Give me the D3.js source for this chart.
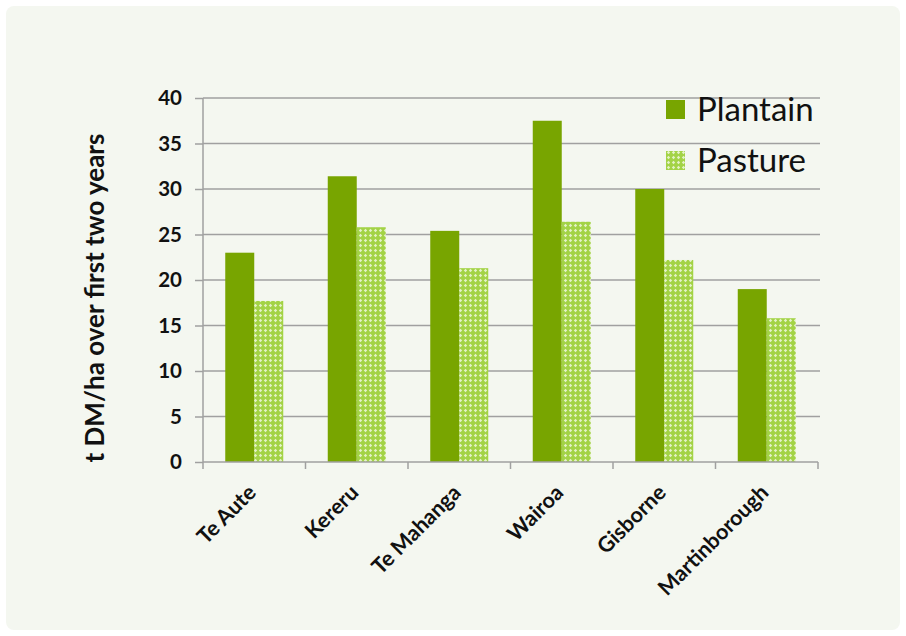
<!DOCTYPE html>
<html>
<head>
<meta charset="utf-8">
<script src="https://cdn.jsdelivr.net/npm/d3@7"></script>
<style>
  body { margin: 0; background: #ffffff; }
  svg text { font-family: Lato, "Open Sans", sans-serif; }
</style>
</head>
<body>
<div id="chart"></div>
<script>
// data
const sites = ["Te Aute", "Kereru", "Te Mahanga", "Wairoa", "Gisborne", "Martinborough"];
const plantain = [23.0, 31.4, 25.4, 37.5, 30.0, 19.0];
const pasture = [17.7, 25.8, 21.3, 26.4, 22.2, 15.8];
const yTicks = [0, 5, 10, 15, 20, 25, 30, 35, 40];
const seriesNames = ["Plantain", "Pasture"];

const W = 906, H = 636;
const margin = {top: 98, right: 88, bottom: 174, left: 203};
const width = W - margin.left - margin.right,
    height = H - margin.top - margin.bottom;

let svg = d3.select("#chart").append("svg")
    .attr("width", W)
    .attr("height", H);

// hatch pattern for pasture
let defs = svg.append("defs");
let pat = defs.append("pattern")
    .attr("id", "hatch")
    .attr("width", 5).attr("height", 5)
    .attr("patternUnits", "userSpaceOnUse");
pat.append("rect").attr("width", 5).attr("height", 5).attr("fill", "#a3d346");
pat.append("path")
    .attr("d", "M2.5,0.8 L4.2,2.5 L2.5,4.2 L0.8,2.5 Z")
    .attr("fill", "#e4f2c8");

// panel background
svg.append("rect")
    .attr("x", 6).attr("y", 6)
    .attr("width", 894).attr("height", 624)
    .attr("rx", 8)
    .attr("fill", "#f4f7f0");

let g = svg.append("g")
    .attr("transform", "translate(" + margin.left + "," + margin.top + ")");

let x = d3.scaleBand()
    .domain(sites)
    .range([0, width]);

let y = d3.scaleLinear()
    .domain([0, 40])
    .range([height, 0]);

// gridlines
g.selectAll(".grid")
    .data(yTicks.filter(d => d > 0))
    .enter().append("line")
    .attr("x1", 0).attr("x2", width + 2)
    .attr("y1", d => y(d)).attr("y2", d => y(d))
    .attr("stroke", "#a0a0a0")
    .attr("stroke-width", 1.5);

// bars
const barW = 29;
const off = (x.bandwidth() - 2 * barW) / 2;

g.selectAll(".plantain")
    .data(plantain)
    .enter().append("rect")
    .attr("x", (d, i) => x(sites[i]) + off)
    .attr("y", d => y(d))
    .attr("width", barW)
    .attr("height", d => height - y(d))
    .attr("fill", "#78a500");

g.selectAll(".pasture")
    .data(pasture)
    .enter().append("rect")
    .attr("x", (d, i) => x(sites[i]) + off + barW)
    .attr("y", d => y(d))
    .attr("width", barW)
    .attr("height", d => height - y(d))
    .attr("fill", "url(#hatch)");

// y axis
let yAxis = g.append("g")
    .call(d3.axisLeft(y).tickValues(yTicks).tickSize(8).tickPadding(13));
yAxis.select(".domain").attr("stroke", "#a0a0a0").attr("stroke-width", 1.5)
    .attr("d", "M0," + height + "V0");
yAxis.selectAll(".tick line").attr("stroke", "#a0a0a0").attr("stroke-width", 1.5);
yAxis.selectAll(".tick text")
    .attr("font-size", 20.5)
    .attr("font-weight", "bold")
    .attr("fill", "#111");

// x axis
let xAxis = g.append("g")
    .attr("transform", "translate(0," + height + ")")
    .call(d3.axisBottom(x).tickSize(0).tickFormat(""));
xAxis.select(".domain").attr("stroke", "#a0a0a0").attr("stroke-width", 1.5)
    .attr("d", "M0,0H" + width);

// category tick marks at band edges
g.selectAll(".xtick")
    .data(d3.range(sites.length + 1))
    .enter().append("line")
    .attr("x1", i => i * x.step()).attr("x2", i => i * x.step())
    .attr("y1", height).attr("y2", height + 7)
    .attr("stroke", "#a0a0a0")
    .attr("stroke-width", 1.5);

// rotated category labels
g.selectAll(".xlabel")
    .data(sites)
    .enter().append("text")
    .attr("transform", d => "translate(" + (x(d) + x.bandwidth() / 2 + 3) + "," + (height + 32) + ") rotate(-45)")
    .attr("text-anchor", "end")
    .attr("font-size", 21.5)
    .attr("font-weight", "bold")
    .attr("fill", "#111")
    .text(d => d);

// y axis title
svg.append("text")
    .attr("transform", "translate(104," + (margin.top + height / 2 + 18) + ") rotate(-90)")
    .attr("text-anchor", "middle")
    .attr("font-size", 26)
    .attr("font-weight", "bold")
    .attr("fill", "#111")
    .text("t DM/ha over first two years");

// legend
let legend = svg.append("g")
    .attr("transform", "translate(666,109)");
seriesNames.forEach(function(name, i) {
    let row = legend.append("g").attr("transform", "translate(0," + (i * 51) + ")");
    row.append("rect")
        .attr("x", 0).attr("y", -9)
        .attr("width", 19).attr("height", 19)
        .attr("fill", i === 0 ? "#78a500" : "url(#hatch)");
    row.append("text")
        .attr("x", 31).attr("y", 0)
        .attr("dy", "0.35em")
        .attr("font-size", 33)
        .attr("fill", "#111")
        .text(name);
});
</script>
</body>
</html>
